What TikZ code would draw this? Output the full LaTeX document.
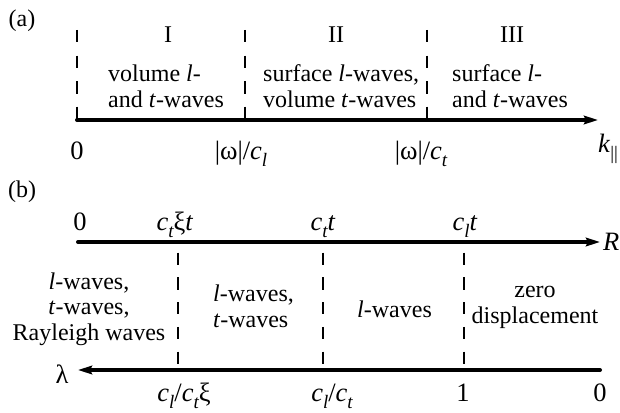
\documentclass[tikz,border=0pt]{standalone}
\usepackage{fontspec}
\setmainfont{Liberation Serif}
\usetikzlibrary{arrows.meta}
\newcommand{\vi}[1]{\textit{#1}}
\newcommand{\lsub}[1]{\raisebox{-0.27em}{\fontsize{19}{19}\selectfont\itshape #1}}
\newcommand{\barsub}{\raisebox{-0.3em}{\fontsize{19}{19}\selectfont ||}}
\begin{document}
\begin{tikzpicture}[x=1pt,y=-1pt,
  txt/.style={font=\fontsize{24}{25.5}\selectfont, inner sep=0pt},
  lbl/.style={font=\fontsize{26.5}{27}\selectfont, inner sep=0pt, anchor=base},
  roman/.style={font=\fontsize{24}{25}\selectfont, inner sep=0pt},
  axis/.style={line width=3.1pt, -{Stealth[length=14pt,width=8.5pt,inset=2pt]}},
  diva/.style={line width=2.7pt, dash pattern=on 12.5pt off 13pt, dash phase=18.5pt},
  divb/.style={line width=2.7pt, dash pattern=on 12.3pt off 12.4pt, dash phase=14pt},
  enddot/.style={circle, fill, inner sep=0pt, minimum size=4pt}]
\useasboundingbox (0,0) rectangle (620,412);
% ---------- panel (a)
\node[txt] (pa) at (22,21) {(a)};
\node[enddot] (a0) at (77,120) {};
\coordinate (aend) at (598,120);
\draw[axis] (a0.center) -- (aend);
\coordinate (d1t) at (77,23);  \coordinate (d1b) at (77,120);
\coordinate (d2t) at (245,23); \coordinate (d2b) at (245,120);
\coordinate (d3t) at (427,23); \coordinate (d3b) at (427,120);
\draw[diva] (d1t) -- (d1b);
\draw[diva] (d2t) -- (d2b);
\draw[diva] (d3t) -- (d3b);
\node[roman] (r1) at (168,35) {I};
\node[roman] (r2) at (336,35) {II};
\node[roman] (r3) at (512,35) {III};
\node[txt, align=left, anchor=base west] (t1) at (108,107) {volume \vi{l}-\\and \vi{t}-waves};
\node[txt, align=left, anchor=base west] (t2) at (263,107) {surface \vi{l}-waves,\\volume \vi{t}-waves};
\node[txt, align=left, anchor=base west] (t3) at (452,107) {surface \vi{l}-\\and \vi{t}-waves};
\node[lbl] (la0) at (77,159) {0};
\node[lbl] (la1) at (241,159) {|ω|/\vi{c}\lsub{l}};
\node[lbl] (la2) at (421,159) {|ω|/\vi{c}\lsub{t}};
\node[lbl, anchor=base west] (lak) at (598,152) {\vi{k}\barsub};
% ---------- panel (b)
\node[txt] (pb) at (22,192) {(b)};
\node[enddot] (b0) at (78,242) {};
\coordinate (bend) at (600,242);
\draw[axis] (b0.center) -- (bend);
\node[enddot] (c0) at (600,370) {};
\coordinate (cend) at (78,370);
\draw[axis] (c0.center) -- (cend);
\coordinate (e1t) at (178,242); \coordinate (e1b) at (178,370);
\coordinate (e2t) at (323,242); \coordinate (e2b) at (323,370);
\coordinate (e3t) at (464,242); \coordinate (e3b) at (464,370);
\draw[divb] (e1t) -- (e1b);
\draw[divb] (e2t) -- (e2b);
\draw[divb] (e3t) -- (e3b);
\node[lbl] (lb0) at (80,230) {0};
\node[lbl] (lb1) at (175,230) {\vi{c}\lsub{t}ξ\vi{t}};
\node[lbl] (lb2) at (323,230) {\vi{c}\lsub{t}\vi{t}};
\node[lbl] (lb3) at (465,230) {\vi{c}\lsub{l}\vi{t}};
\node[lbl, anchor=base west] (lbR) at (603,250) {\vi{R}};
\node[lbl] (lbl) at (62,383) {λ};
\node[lbl] (lc1) at (184,401) {\vi{c}\lsub{l}/\vi{c}\lsub{t}ξ};
\node[lbl] (lc2) at (332,401) {\vi{c}\lsub{l}/\vi{c}\lsub{t}};
\node[lbl] (lc3) at (463,401) {1};
\node[lbl] (lc4) at (600,401) {0};
\node[txt, align=center, anchor=base] (s1) at (89,340) {\vi{l}-waves,\\\vi{t}-waves,\\Rayleigh waves};
\node[txt, align=left, anchor=base west] (s2) at (213,327) {\vi{l}-waves,\\\vi{t}-waves};
\node[txt, anchor=base west] (s3) at (357,317) {\vi{l}-waves};
\node[txt, align=center, anchor=base] (s4) at (535,323) {zero\\displacement};
\end{tikzpicture}
\end{document}
